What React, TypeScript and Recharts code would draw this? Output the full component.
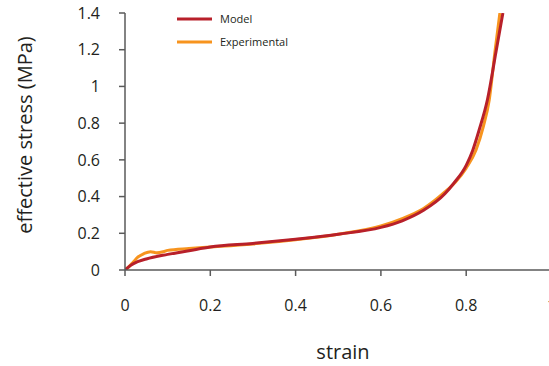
import React from "react";
import { LineChart, Line, XAxis, YAxis, Legend, Label } from "recharts";

const modelStrain = [0, 0.01, 0.02, 0.05, 0.1, 0.15, 0.2, 0.3, 0.4, 0.5, 0.6, 0.65, 0.7, 0.75, 0.77, 0.8, 0.815, 0.83, 0.85, 0.87, 0.886];
const modelStress = [0, 0.02, 0.035, 0.06, 0.085, 0.105, 0.125, 0.145, 0.168, 0.195, 0.232, 0.268, 0.325, 0.415, 0.47, 0.57, 0.65, 0.76, 0.93, 1.19, 1.4];

const expStrain = [0, 0.01, 0.02, 0.03, 0.045, 0.06, 0.075, 0.09, 0.1, 0.15, 0.2, 0.3, 0.4, 0.5, 0.6, 0.65, 0.7, 0.75, 0.775, 0.8, 0.823, 0.84, 0.854, 0.868, 0.879];
const expStress = [0, 0.02, 0.045, 0.07, 0.09, 0.1, 0.094, 0.1, 0.107, 0.117, 0.125, 0.142, 0.165, 0.195, 0.24, 0.28, 0.335, 0.425, 0.48, 0.555, 0.654, 0.78, 0.926, 1.2, 1.4];

const xTicks = [0, 0.2, 0.4, 0.6, 0.8, 1];
const yTicks = [0, 0.2, 0.4, 0.6, 0.8, 1, 1.2, 1.4];

const series = [
  { name: "Model", color: "#b8202a" },
  { name: "Experimental", color: "#f7941e" },
];

const modelData = modelStrain.map((x, i) => ({ x, y: modelStress[i] }));
const expData = expStrain.map((x, i) => ({ x, y: expStress[i] }));

const FONT = "'Open Sans', sans-serif";
const AXIS = "#5a5a5a";
const TEXT = "#231f20";

function LegendBox() {
  return (
    <div style={{ fontFamily: FONT, fontSize: 11, color: TEXT }}>
      {series.map((s) => (
        <div key={s.name} style={{ display: "flex", alignItems: "center", height: 23 }}>
          <svg width={35} height={4} style={{ marginRight: 8 }}>
            <line x1={0} y1={2} x2={35} y2={2} stroke={s.color} strokeWidth={3} />
          </svg>
          <span>{s.name}</span>
        </div>
      ))}
    </div>
  );
}

export default function App() {
  return (
    <div style={{ position: "absolute", top: 0, left: 0, width: 549, height: 366, overflow: "hidden", background: "#fff" }}>
      <LineChart width={560} height={366} margin={{ top: 13, right: 8.5, left: 0, bottom: 0 }}>
        <XAxis
          type="number"
          dataKey="x"
          domain={[0, 1]}
          ticks={xTicks}
          height={96}
          stroke={AXIS}
          strokeWidth={1.5}
          tickSize={6}
          tickMargin={24}
          tick={{ fill: TEXT, fontSize: 16, fontFamily: FONT }}
          allowDataOverflow
        >
          <Label
            content={() => (
              <text x={343} y={359} textAnchor="middle" fill={TEXT} fontSize={20} fontFamily={FONT}>
                strain
              </text>
            )}
          />
        </XAxis>
        <YAxis
          type="number"
          dataKey="y"
          domain={[0, 1.4]}
          ticks={yTicks}
          width={125}
          stroke={AXIS}
          strokeWidth={1.5}
          tickSize={6}
          tickMargin={19}
          tick={{ fill: TEXT, fontSize: 16, fontFamily: FONT }}
          allowDataOverflow
        >
          <Label
            content={() => (
              <text
                x={32}
                y={135}
                transform="rotate(-90 32 135)"
                textAnchor="middle"
                fill={TEXT}
                fontSize={20}
                fontFamily={FONT}
              >
                effective stress (MPa)
              </text>
            )}
          />
        </YAxis>
        <Legend
          verticalAlign="middle"
          align="center"
          layout="vertical"
          wrapperStyle={{ top: 7, left: 177, width: 150 }}
          content={() => <LegendBox />}
        />
        <Line
          data={expData}
          dataKey="y"
          name="Experimental"
          type="monotone"
          stroke={series[1].color}
          strokeWidth={3}
          dot={false}
          isAnimationActive={false}
        />
        <Line
          data={modelData}
          dataKey="y"
          name="Model"
          type="monotone"
          stroke={series[0].color}
          strokeWidth={3}
          dot={false}
          isAnimationActive={false}
        />
      </LineChart>
    </div>
  );
}
